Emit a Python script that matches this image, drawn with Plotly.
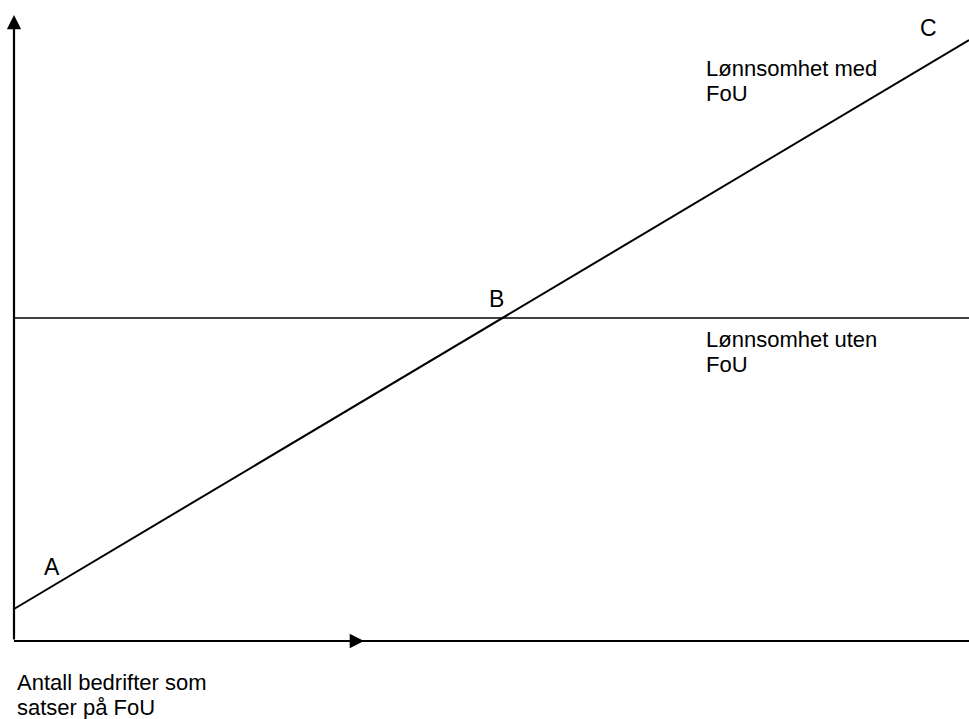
import plotly.graph_objects as go

# Conceptual diagram, coordinates in canvas units (x right, y down)
axis_origin = (14, 641)
y_axis_tip = (14, 15)
x_axis_end = 969
x_arrow_start = 48
x_arrow_tip = 364

line_without_y = 318            # "Lønnsomhet uten FoU" level
line_with_x = [14, 969]         # "Lønnsomhet med FoU"
line_with_y = [609, 40]

point_labels = ["A", "B", "C"]
point_x = [52, 496, 928]
point_y = [567, 299, 28]

text_lines = ["Lønnsomhet med", "FoU", "Lønnsomhet uten", "FoU",
              "Antall bedrifter som", "satser på FoU"]
text_x = [705, 705, 705, 705, 16, 16]
text_y = [68, 93, 339, 364, 682, 707]

FONT = "Liberation Sans, Arial, sans-serif"
FSIZE = 22

fig = go.Figure()

# x-axis base line
fig.add_trace(go.Scatter(x=[axis_origin[0], x_axis_end], y=[axis_origin[1], axis_origin[1]],
                         mode="lines", line=dict(color="black", width=2),
                         hoverinfo="skip", showlegend=False))
# horizontal line (without R&D)
fig.add_trace(go.Scatter(x=[axis_origin[0], x_axis_end], y=[line_without_y, line_without_y],
                         mode="lines", line=dict(color="black", width=1.6),
                         hoverinfo="skip", showlegend=False))
# diagonal line (with R&D)
fig.add_trace(go.Scatter(x=line_with_x, y=line_with_y,
                         mode="lines", line=dict(color="black", width=2),
                         hoverinfo="skip", showlegend=False))

annotations = []
# y-axis arrow
annotations.append(dict(x=y_axis_tip[0], y=y_axis_tip[1], ax=axis_origin[0], ay=axis_origin[1],
                        xref="x", yref="y", axref="x", ayref="y", text="",
                        showarrow=True, arrowhead=2, arrowsize=1.3, arrowwidth=2.2,
                        arrowcolor="black", standoff=0, startstandoff=0))
# x-direction arrow
annotations.append(dict(x=x_arrow_tip, y=axis_origin[1], ax=x_arrow_start, ay=axis_origin[1],
                        xref="x", yref="y", axref="x", ayref="y", text="",
                        showarrow=True, arrowhead=2, arrowsize=1.3, arrowwidth=2.2,
                        arrowcolor="black", standoff=0, startstandoff=0))

for lab, px, py in zip(point_labels, point_x, point_y):
    annotations.append(dict(x=px, y=py, xref="x", yref="y", text=lab, showarrow=False,
                            xanchor="center", yanchor="middle", borderpad=0,
                            font=dict(family=FONT, size=23, color="black")))

for t, tx, ty in zip(text_lines, text_x, text_y):
    annotations.append(dict(x=tx, y=ty, xref="x", yref="y", text=t, showarrow=False,
                            xanchor="left", yanchor="middle", borderpad=0,
                            font=dict(family=FONT, size=FSIZE, color="black")))

fig.update_layout(
    width=969, height=719,
    margin=dict(l=0, r=0, t=0, b=0),
    paper_bgcolor="white", plot_bgcolor="white",
    xaxis=dict(range=[0, 969], visible=False, fixedrange=True),
    yaxis=dict(range=[719, 0], visible=False, fixedrange=True),
    annotations=annotations,
    showlegend=False,
)

fig.write_html("out.html", include_plotlyjs=True,
               config={"displayModeBar": False},
               post_script="document.body.style.margin='0';document.body.style.overflow='hidden';")
